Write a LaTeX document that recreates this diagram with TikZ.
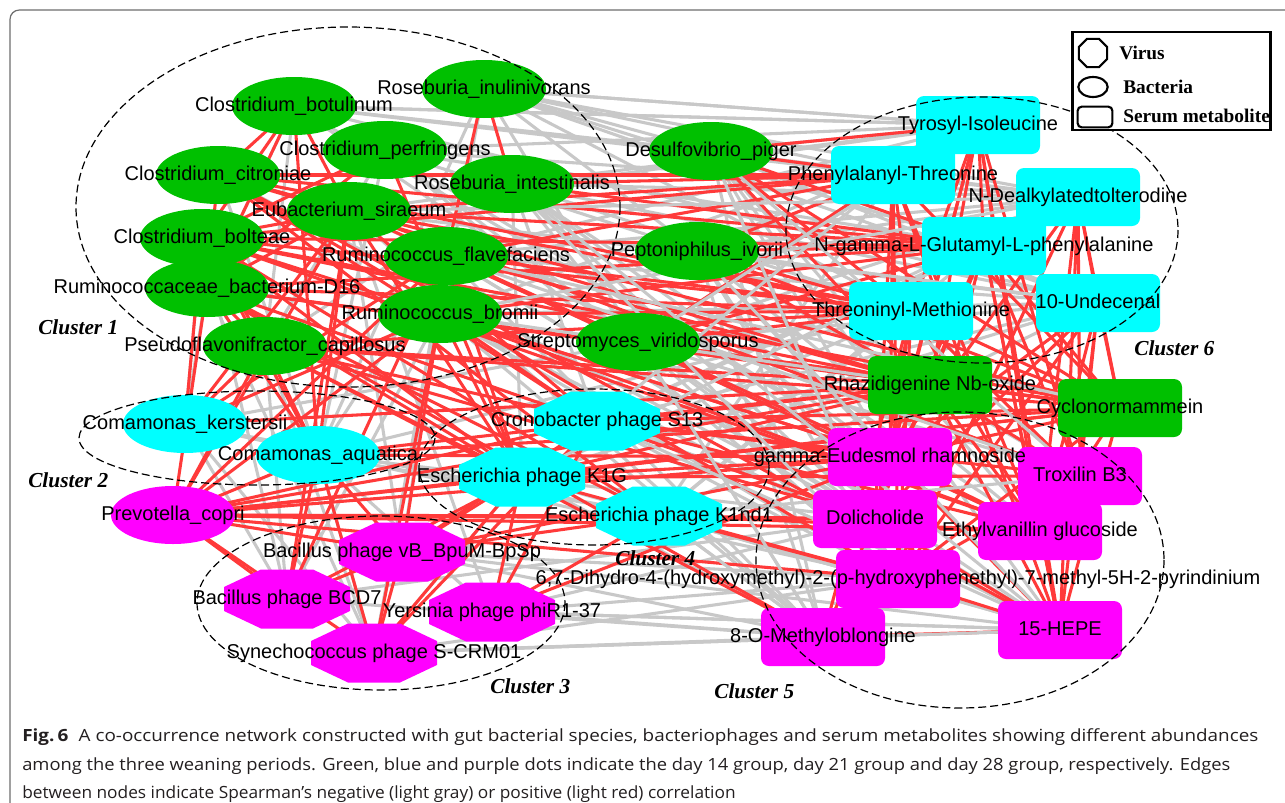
\documentclass[tikz,border=0pt]{standalone}
\usepackage{fontspec}
\usepackage{graphicx}
\setmainfont{Liberation Sans}
\newfontfamily\serifb{Liberation Serif}
\newfontfamily\capfont{Open Sans}
\usetikzlibrary{shapes.geometric}
\definecolor{gn}{RGB}{0,192,0}
\definecolor{cy}{RGB}{0,255,255}
\definecolor{mg}{RGB}{255,0,255}
\definecolor{ered}{RGB}{255,58,58}
\definecolor{egray}{RGB}{200,200,200}
\definecolor{framec}{RGB}{110,110,110}
\definecolor{captext}{RGB}{35,31,32}
\pgfdeclarelayer{bg}
\pgfdeclarelayer{edges}
\pgfsetlayers{bg,edges,main}
\tikzset{
  bact/.style={ellipse, fill=#1, minimum width=93pt, minimum height=43.5pt, inner sep=0pt},
  meta/.style={rectangle, rounded corners=6pt, fill=#1, minimum width=93pt, minimum height=43.5pt, inner sep=0pt},
  hub/.style={rectangle, minimum width=94.5pt, minimum height=44pt, inner sep=0pt},
  lab/.style={inner sep=0pt, text height=10.8pt, text depth=3.2pt, font=\fontsize{15}{18}\selectfont},
  clusterline/.style={draw=black, line width=0.9pt, dash pattern=on 6pt off 3pt},
  clab/.style={inner sep=0pt, anchor=west, font=\serifb\bfseries\itshape\fontsize{16}{19}\selectfont},
  posedge/.style={draw=ered, line width=2.3pt},
  negedge/.style={draw=egray, line width=2.3pt},
  legtext/.style={inner sep=0pt, anchor=west, font=\serifb\bfseries\fontsize{14.5}{17}\selectfont},
  capline/.style={inner sep=0pt, anchor=base west, text=captext}
}
\newcommand\octo[4]{%
  \fill[#4,shift={(#2,#3)}] (-63,-12) -- (-26,-29.5) -- (26,-29.5) -- (63,-12) -- (63,12) -- (26,29.5) -- (-26,29.5) -- (-63,12) -- cycle;
  \node[hub] (#1) at (#2,#3) {};}
\newcommand\lbl[2]{\node[lab] (#1-t) at (#1.center) {#2};}
\begin{document}
\begin{tikzpicture}[x=0.75pt,y=-0.75pt]
\useasboundingbox (0,0) rectangle (1285,803);
\begin{pgfonlayer}{bg}
\fill[white] (0,0) rectangle (1285,803);
\end{pgfonlayer}
\draw[framec, line width=0.9pt, rounded corners=7pt] (10,812) -- (10,10) -- (1295,10);

% ---- shapes ----
\node[bact=gn] (cbot) at (294,106) {};
\node[bact=gn] (rinu) at (484,89) {};
\node[bact=gn] (cper) at (385,150) {};
\node[bact=gn] (ccit) at (218,175) {};
\node[bact=gn] (rint) at (512,184) {};
\node[bact=gn] (esir) at (349,211) {};
\node[bact=gn] (cbol) at (202,238) {};
\node[bact=gn] (rd16) at (207,288) {};
\node[bact=gn] (rfla) at (446,256) {};
\node[bact=gn] (rbro) at (440,314) {};
\node[bact=gn] (pcap) at (265,346) {};
\node[bact=gn] (dpig) at (711,151) {};
\node[bact=gn] (pivo) at (697,251) {};
\node[bact=gn] (svir) at (638,342) {};
\node[bact=cy] (cker) at (185,424) {};
\node[bact=cy] (caqu) at (318,455) {};
\node[bact=mg] (pcop) at (173,515) {};
\octo{s13}{597}{421}{cy}
\octo{k1g}{522}{477}{cy}
\octo{k1nd}{659}{516}{cy}
\octo{bvb}{402}{552}{mg}
\octo{bcd7}{287}{599}{mg}
\octo{yphi}{492}{612}{mg}
\octo{scrm}{374}{653}{mg}
\node[meta=cy] (tyr) at (978,125) {};
\node[meta=cy] (phe) at (893,175) {};
\node[meta=cy] (ndea) at (1078,197) {};
\node[meta=cy] (nglu) at (984,246) {};
\node[meta=cy] (thr) at (911,311) {};
\node[meta=cy] (und) at (1098,303) {};
\node[meta=gn] (rha) at (930,385) {};
\node[meta=gn] (cyc) at (1120,408) {};
\node[meta=mg] (gam) at (890,457) {};
\node[meta=mg] (tro) at (1080,476) {};
\node[meta=mg] (dol) at (875,519) {};
\node[meta=mg] (eth) at (1040,531) {};
\node[meta=mg] (dih) at (898,579) {};
\node[meta=mg] (mob) at (823,637) {};
\node[meta=mg] (hepe) at (1060,630) {};

% ---- edges ----
\begin{pgfonlayer}{edges}
\foreach \a/\b in {rinu/tyr, rinu/ndea, rinu/phe, rinu/und, cbot/tyr, cbot/ndea, cbot/und, cper/tyr, cper/ndea, cper/nglu, rint/tyr, rint/und, rint/ndea, dpig/tyr, dpig/ndea, dpig/und, dpig/gam, dpig/dol, dpig/eth, dpig/hepe, dpig/mob, pivo/gam, pivo/dol, pivo/dih, pivo/mob, pivo/tro, pivo/hepe, svir/dol, svir/mob, svir/hepe, svir/dih, svir/eth, svir/gam, rint/gam, rint/dol, rint/eth, rfla/dol, rfla/mob, rfla/hepe, rbro/mob, rbro/dih, rbro/hepe, esir/eth, esir/mob, cper/dih, cper/gam, ccit/dol, cbot/gam, scrm/mob, scrm/hepe, scrm/dih, yphi/mob, yphi/hepe, yphi/dih, yphi/dol, bvb/mob, bvb/dih, bvb/hepe, bcd7/mob, bcd7/dol, k1nd/mob, k1nd/hepe, k1g/mob, k1g/hepe, s13/dih, s13/dol, caqu/dol, cker/dih, cbol/cker, rd16/cker, rd16/caqu, ccit/caqu, pcap/bcd7, pcap/scrm, rd16/scrm, cker/scrm, cker/bcd7, caqu/scrm, caqu/yphi, esir/bvb, rfla/scrm, cper/caqu, k1g/scrm, s13/yphi, caqu/k1nd, cker/k1nd, rint/k1g, rinu/caqu, cbot/pcap, esir/yphi, rbro/bcd7, rfla/bvb, rint/s13, cbot/rd16, cper/pcap, rinu/rbro, rint/pcap, rfla/caqu, cbol/bcd7, cker/svir, rinu/pivo, cbot/svir, rinu/svir, rint/svir, cper/svir, rinu/dpig, cbot/dpig, cper/pivo, rint/thr, rinu/thr, rinu/nglu, svir/tyr, svir/ndea, pivo/tyr, pivo/und, pivo/ndea, svir/und, rbro/tyr, rfla/ndea, rfla/und, rbro/und, esir/tyr, esir/und, s13/nglu, k1g/thr, k1nd/nglu, k1nd/thr, k1nd/phe, s13/und, caqu/thr, rfla/tyr, s13/ndea, k1g/und, k1nd/und, svir/tro, pivo/eth}
  \draw[negedge] (\a.center) -- (\b.center);
\foreach \a/\b in {cbot/esir, cbot/cbol, cbot/rd16, ccit/esir, rinu/rint, rinu/rfla, cper/cbol, cbot/ccit, ccit/rd16, esir/rd16, esir/cbol, cper/rd16, cbol/pcap, rd16/pcap, ccit/phe, cbol/phe, cbol/nglu, rd16/nglu, rd16/thr, esir/thr, esir/phe, pcap/thr, pcap/rha, cbol/rha, rd16/rha, ccit/nglu, esir/nglu, rfla/thr, rbro/thr, rbro/nglu, rint/phe, dpig/phe, pivo/nglu, svir/thr, svir/rha, rfla/rha, cbol/cyc, rd16/cyc, esir/cyc, pcap/cyc, dpig/tyr, rint/nglu, rfla/phe, ccit/thr, cbol/thr, ccit/rha, cbol/caqu, rd16/caqu, pcap/caqu, esir/caqu, esir/k1g, rfla/k1g, rbro/k1g, rbro/s13, cbol/k1g, rd16/k1g, pcap/k1g, pcap/s13, esir/s13, ccit/s13, cbol/k1nd, rd16/k1nd, cker/esir, cker/pcap, cker/rbro, cbot/caqu, cper/k1g, ccit/k1nd, cker/rfla, cker/cbol, pcop/caqu, pcop/k1g, pcop/s13, pcop/k1nd, pcop/bcd7, pcop/bvb, pcop/gam, pcop/dol, pcop/eth, pcop/dih, pcop/cyc, pcop/rha, pcop/rbro, pcop/rfla, pcop/esir, pcop/scrm, pcop/pcap, pcop/rd16, bvb/k1g, bvb/s13, bvb/caqu, bcd7/caqu, bcd7/k1g, scrm/caqu, scrm/k1g, scrm/s13, scrm/bvb, yphi/k1g, yphi/s13, bcd7/bvb, bvb/gam, yphi/gam, yphi/k1nd, bvb/k1nd, bcd7/esir, scrm/rbro, bvb/rbro, bcd7/rfla, k1g/gam, k1g/tro, s13/gam, s13/cyc, s13/rha, k1nd/dol, k1nd/dih, k1nd/eth, k1g/dih, s13/tro, s13/eth, k1g/rha, caqu/gam, caqu/rha, cker/rha, caqu/cyc, k1g/cyc, tyr/tro, tyr/hepe, tyr/eth, phe/gam, phe/dol, phe/dih, phe/hepe, phe/eth, ndea/tro, ndea/hepe, ndea/eth, ndea/cyc, nglu/gam, nglu/dol, nglu/tro, nglu/hepe, nglu/eth, nglu/dih, thr/gam, thr/dol, thr/dih, thr/mob, thr/eth, und/tro, und/hepe, und/eth, und/cyc, und/gam, und/dih, rha/tro, rha/hepe, rha/eth, cyc/hepe, cyc/eth, cyc/dih, tyr/nglu, tyr/thr, phe/thr, ndea/und, rha/dol, cyc/gam, gam/hepe, dol/hepe, dih/hepe, mob/hepe, eth/hepe, tro/dih, mob/dol, gam/eth, tyr/rha, phe/cyc, nglu/rha, nglu/cyc, thr/cyc, thr/tro, tyr/dol, ndea/dih, und/dol, ndea/gam, tyr/gam, cbol/gam, rd16/dol, pcap/dol, esir/gam, ccit/dih, pcap/mob, rd16/mob, ccit/hepe, esir/tro, cbol/eth, rfla/eth, rbro/gam, rbro/eth, pivo/phe, pivo/thr, pivo/rha, pivo/cyc, svir/nglu, svir/phe, dpig/nglu, dpig/thr, dpig/rha, svir/cyc, dpig/cyc}
  \draw[posedge] (\a.center) -- (\b.center);
\foreach \a/\b in {svir/mob, pivo/hepe, dpig/dih, rint/dih, rfla/tro, yphi/hepe, scrm/hepe, k1nd/mob, rinu/tyr, cbot/tyr, dpig/tro, rint/hepe, s13/phe, k1g/nglu, rbro/ndea, esir/ndea, svir/tyr, pivo/und, k1nd/tro, s13/hepe, rfla/cyc, rbro/rha}
  \draw[negedge] (\a.center) -- (\b.center);
\end{pgfonlayer}

% ---- cluster outlines ----
\draw[clusterline] (348,207) ellipse [x radius=272, y radius=180];
\draw[clusterline] (257,438) ellipse [x radius=178, y radius=47];
\draw[clusterline] (381,603) ellipse [x radius=184, y radius=87];
\draw[clusterline] (594,467) ellipse [x radius=175, y radius=78];
\draw[clusterline] (960,560) ellipse [x radius=204, y radius=148];
\draw[clusterline] (982,230) ellipse [x radius=196, y radius=133];

% ---- labels ----
\lbl{cbot}{Clostridium\_botulinum}
\lbl{rinu}{Roseburia\_inulinivorans}
\lbl{cper}{Clostridium\_perfringens}
\lbl{ccit}{Clostridium\_citroniae}
\lbl{rint}{Roseburia\_intestinalis}
\lbl{esir}{Eubacterium\_siraeum}
\lbl{cbol}{Clostridium\_bolteae}
\lbl{rd16}{Ruminococcaceae\_bacterium-D16}
\lbl{rfla}{Ruminococcus\_flavefaciens}
\lbl{rbro}{Ruminococcus\_bromii}
\lbl{pcap}{Pseudoflavonifractor\_capillosus}
\lbl{dpig}{Desulfovibrio\_piger}
\lbl{pivo}{Peptoniphilus\_ivorii}
\lbl{svir}{Streptomyces\_viridosporus}
\lbl{cker}{Comamonas\_kerstersii}
\lbl{caqu}{Comamonas\_aquatica}
\lbl{pcop}{Prevotella\_copri}
\lbl{s13}{Cronobacter phage S13}
\lbl{k1g}{Escherichia phage K1G}
\lbl{k1nd}{Escherichia phage K1nd1}
\lbl{bvb}{Bacillus phage vB\_BpuM-BpSp}
\lbl{bcd7}{Bacillus phage BCD7}
\lbl{yphi}{Yersinia phage phiR1-37}
\lbl{scrm}{Synechococcus phage S-CRM01}
\lbl{tyr}{Tyrosyl-Isoleucine}
\lbl{phe}{Phenylalanyl-Threonine}
\lbl{ndea}{N-Dealkylatedtolterodine}
\lbl{nglu}{N-gamma-L-Glutamyl-L-phenylalanine}
\lbl{thr}{Threoninyl-Methionine}
\lbl{und}{10-Undecenal}
\lbl{rha}{Rhazidigenine Nb-oxide}
\lbl{cyc}{Cyclonormammein}
\lbl{gam}{gamma-Eudesmol rhamnoside}
\lbl{tro}{Troxilin B3}
\lbl{dol}{Dolicholide}
\lbl{eth}{Ethylvanillin glucoside}
\lbl{dih}{6,7-Dihydro-4-(hydroxymethyl)-2-(p-hydroxyphenethyl)-7-methyl-5H-2-pyrindinium}
\lbl{mob}{8-O-Methyloblongine}
\lbl{hepe}{15-HEPE}

% ---- cluster names ----
\node[clab] (c1) at (38,327) {Cluster 1};
\node[clab] (c2) at (28,480) {Cluster 2};
\node[clab] (c3) at (490,686) {Cluster 3};
\node[clab] (c4) at (615,558) {Cluster 4};
\node[clab] (c5) at (714,691) {Cluster 5};
\node[clab] (c6) at (1134,348) {Cluster 6};

% ---- legend ----
\node[draw=black, line width=2.2pt, fill=white, minimum width=149pt, minimum height=73.5pt, inner sep=0pt] (legend) at (1171.5,81) {};
\node[regular polygon, regular polygon sides=8, draw=black, line width=1.6pt, minimum size=23pt, inner sep=0pt] (lvir) at (1093,53) {};
\node[ellipse, draw=black, line width=1.6pt, minimum width=22pt, minimum height=15pt, inner sep=0pt] (lbac) at (1093,87) {};
\node[rectangle, rounded corners=3pt, draw=black, line width=1.6pt, minimum width=26pt, minimum height=15.5pt, inner sep=0pt] (lmet) at (1095,117) {};
\node[legtext] (lvir-t) at (1119,53) {Virus};
\node[legtext] (lbac-t) at (1123,87) {Bacteria};
\node[legtext] (lmet-t) at (1123,116) {Serum metabolite};

% ---- caption ----
\node[capline] (cap1) at (22,741) {\resizebox{927pt}{\height}{\capfont\fontsize{12.6}{15}\selectfont\textbf{Fig.\,6}\hspace{0.55em}A co-occurrence network constructed with gut bacterial species, bacteriophages and serum metabolites showing different abundances}};
\node[capline] (cap2) at (22,770) {\resizebox{906pt}{\height}{\capfont\fontsize{12.6}{15}\selectfont among the three weaning periods. Green, blue and purple dots indicate the day 14 group, day 21 group and day 28 group, respectively. Edges}};
\node[capline] (cap3) at (22,798) {\resizebox{535pt}{\height}{\capfont\fontsize{12.6}{15}\selectfont between nodes indicate Spearman’s negative (light gray) or positive (light red) correlation}};
\end{tikzpicture}
\end{document}
